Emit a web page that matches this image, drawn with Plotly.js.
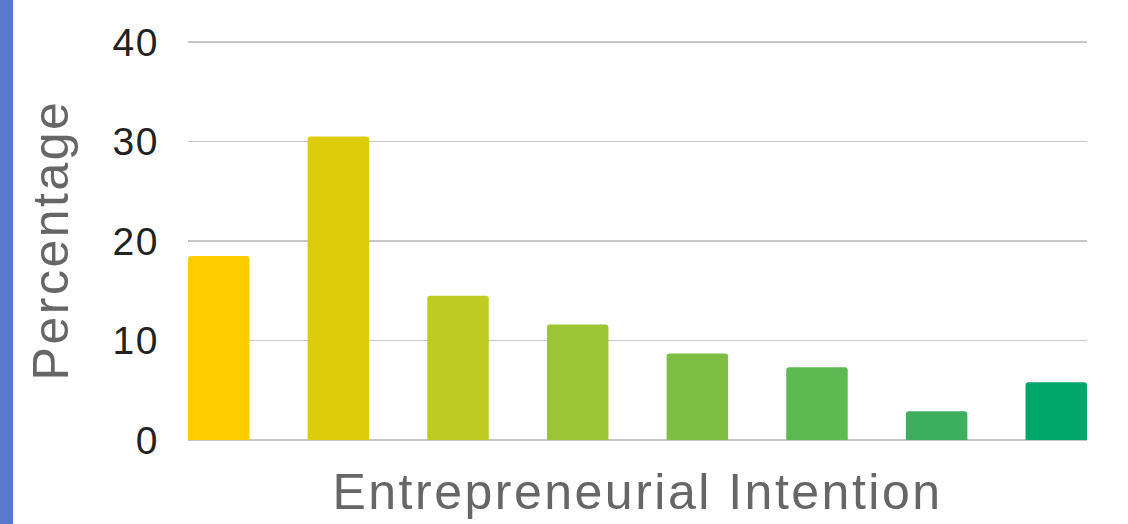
<!DOCTYPE html>
<html>
<head>
<meta charset="utf-8">
<script src="https://cdn.plot.ly/plotly-3.0.1.min.js"></script>
<style>
  html, body { margin: 0; padding: 0; background: #ffffff; }
  #chart { width: 1128px; height: 524px; }
  .xtitle, .ytitle { letter-spacing: 2.5px; }
  .ytick text { letter-spacing: 1.5px; }
</style>
</head>
<body>
<div id="chart"></div>
<script>
const categories = ["1", "2", "3", "4", "5", "6", "7", "8"];
const percentages = [18.5, 30.5, 14.5, 11.6, 8.7, 7.3, 2.9, 5.8];
const barColors = ["#FFCC00", "#DDCC0A", "#BECB22", "#9CC434", "#7FBE45", "#5DB952", "#3DAF5E", "#00A66A"];
const yTickValues = [0, 10, 20, 30, 40];
const xTitle = "Entrepreneurial Intention";
const yTitle = "Percentage";

const barWidth = 0.514;

const trace = {
  type: "bar",
  x: categories,
  y: percentages,
  width: barWidth,
  marker: { color: barColors, line: { width: 0 } },
  hoverinfo: "x+y"
};

const plotLeft = 188, plotRight = 1087;
const plotW = plotRight - plotLeft;

const layout = {
  width: 1128,
  height: 524,
  margin: { l: plotLeft, r: 1128 - plotRight, t: 40, b: 84 },
  paper_bgcolor: "#ffffff",
  plot_bgcolor: "#ffffff",
  showlegend: false,
  barcornerradius: 3,
  font: { family: "Liberation Sans, Arial, sans-serif" },
  xaxis: {
    type: "category",
    range: [-barWidth / 2, categories.length - 1 + barWidth / 2],
    showticklabels: false,
    showgrid: false,
    zeroline: false,
    showline: false,
    ticks: "",
    title: {
      text: xTitle,
      font: { family: "Liberation Sans, Arial, sans-serif", size: 50, color: "#666666" },
      standoff: 33
    },
    automargin: true
  },
  yaxis: {
    range: [0, 40.2],
    tickvals: yTickValues,
    ticktext: yTickValues.map(String),
    tickfont: { family: "Liberation Sans, Arial, sans-serif", size: 39, color: "#222222" },
    ticks: "",
    ticklabelstandoff: 28,
    showgrid: true,
    gridcolor: "#c6c6c6",
    gridwidth: 1.5,
    zeroline: true,
    zerolinecolor: "#c6c6c6",
    zerolinewidth: 1.5,
    showline: false,
    title: {
      text: yTitle,
      font: { family: "Liberation Sans, Arial, sans-serif", size: 50, color: "#666666" },
      standoff: 28
    },
    automargin: true
  },
  shapes: [{
    type: "rect",
    xref: "paper", yref: "paper",
    x0: -plotLeft / plotW, x1: -(plotLeft - 13) / plotW,
    y0: -0.4, y1: 1.3,
    fillcolor: "#5A78CD",
    line: { width: 0 },
    layer: "below"
  }]
};

Plotly.newPlot("chart", [trace], layout, { staticPlot: true, displayModeBar: false });
</script>
</body>
</html>
